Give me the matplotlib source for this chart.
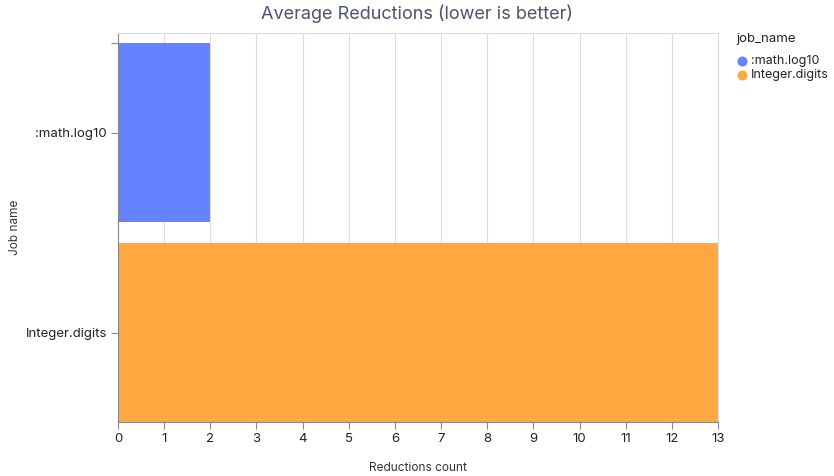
import matplotlib.pyplot as plt
from matplotlib.lines import Line2D

jobs = [":math.log10", "Integer.digits"]
reductions = [2, 13]
colors = ["#6683FF", "#FFA840"]
x_ticks = list(range(0, 14))

plt.rcParams["font.family"] = ["Inter", "DejaVu Sans"]

fig = plt.figure(figsize=(8.34, 4.76), dpi=100)
ax = fig.add_axes([118 / 834, 1 - 422 / 476, 600 / 834, 389 / 476])

pos = list(range(len(jobs)))
ax.barh(pos, reductions, height=0.895, color=colors, zorder=2)

ax.set_xlim(0, 13)
ax.set_ylim(1.4475, -0.5)
ax.set_xticks(x_ticks)
# unlabeled tick at the top edge of the first band, as in the original
ax.set_yticks([-0.4475] + pos)
ax.set_yticklabels([""] + jobs)
ax.tick_params(axis="x", length=5, color="#888888", labelsize=9.5, labelcolor="#222222", pad=3)
ax.tick_params(axis="y", length=5, color="#888888", labelsize=9.5, labelcolor="#222222", pad=3)
ax.grid(axis="x", color="#dddddd", linewidth=0.8, zorder=0)
for side in ["top", "right"]:
    ax.spines[side].set_color("#dddddd")
    ax.spines[side].set_linewidth(0.8)
for side in ["left", "bottom"]:
    ax.spines[side].set_color("#888888")
    ax.spines[side].set_linewidth(0.8)

ax.set_xlabel("Reductions count", fontsize=8.5, color="#333333", labelpad=12)
ax.set_ylabel("Job name", fontsize=8.5, color="#333333", labelpad=3)
fig.text(0.5, 1 - 14 / 476, "Average Reductions (lower is better)", ha="center", va="center",
         fontsize=13, color="#4a5568")

# legend
fig.text(736 / 834, 1 - 39 / 476, "job_name", ha="left", va="center", fontsize=9.5, color="#222222")
for i, (name, c) in enumerate(zip(jobs, colors)):
    y = 1 - (61 + i * 14) / 476
    fig.add_artist(Line2D([742 / 834], [y], marker="o", markersize=6.2, color=c,
                          linestyle="none", transform=fig.transFigure))
    fig.text(751 / 834, y, name, ha="left", va="center", fontsize=9, color="#222222")

fig.savefig("out.png", dpi=100)
